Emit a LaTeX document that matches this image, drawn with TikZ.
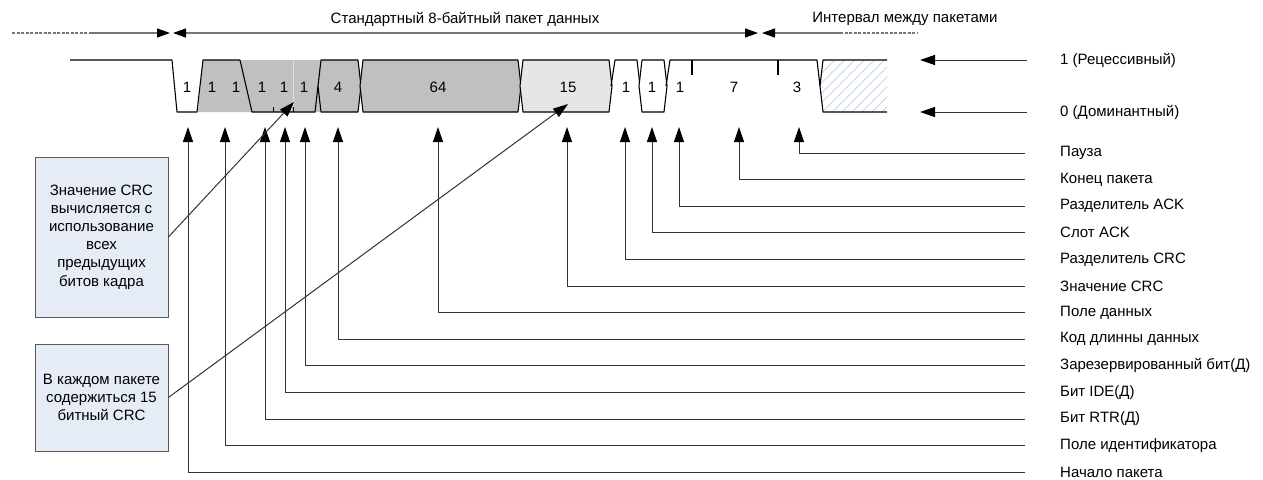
\documentclass[tikz,border=0pt]{standalone}
\usepackage{fontspec}
\setmainfont{Liberation Sans}
\usetikzlibrary{arrows.meta,positioning,calc,patterns.meta}
\definecolor{fieldgray}{RGB}{192,192,192}
\definecolor{crcgray}{RGB}{230,230,230}
\definecolor{notefill}{RGB}{230,236,246}
\definecolor{noteline}{RGB}{90,90,90}
\definecolor{hatchblue}{RGB}{190,205,230}
\definecolor{headgray}{RGB}{120,120,120}
\tikzset{
  wave/.style={draw, line width=1.1pt, line join=round},
  bitlabel/.style={font=\fontsize{15}{18}\selectfont, inner sep=0pt},
  fieldlabel/.style={font=\fontsize{15}{18}\selectfont, anchor=west, inner sep=0pt},
  note/.style={draw=noteline, fill=notefill, line width=0.8pt, minimum width=133pt,
    align=center, font=\fontsize{15}{18.2}\selectfont, inner sep=0pt},
  pointer/.style={-{Triangle[length=15pt,width=10pt,color=black]}, line width=1pt, black!80},
  headline/.style={draw=headgray, line width=1.2pt},
  headtip/.tip={Triangle[length=13pt,width=9pt,color=black]},
}
% bus field: left x, right x, fill
\newcommand{\busfield}[3]{%
  \filldraw[wave, fill=#3] (#1,86) -- (#1+3,60) -- (#2-3,60) -- (#2,86)
    -- (#2-3,112) -- (#1+3,112) -- cycle;}

\begin{document}
\begin{tikzpicture}[x=1pt, y=-1pt]
  \fill[white] (0,0) rectangle (1263,479);
  \useasboundingbox (0,0) rectangle (1263,479);

  % header
  \coordinate (hdstart) at (12,33);
  \coordinate (hdsolid) at (90,33);
  \coordinate (framestart) at (170,33);
  \coordinate (framebegin) at (173,33);
  \coordinate (frameend) at (758,33);
  \coordinate (gapbegin) at (762,33);
  \coordinate (gapsolid) at (840,33);
  \coordinate (hdend) at (918,33);
  \draw[headline, dash pattern=on 3pt off 1.5pt] (hdstart) -- (hdsolid);
  \draw[headline, -headtip] (hdsolid) -- (framestart);
  \draw[headline, headtip-headtip] (framebegin) -- (frameend);
  \draw[headline, headtip-] (gapbegin) -- (gapsolid);
  \draw[headline, dash pattern=on 3pt off 1.5pt] (gapsolid) -- (hdend);
  \node[bitlabel] (framelabel) at (465,19) {Стандартный 8-байтный пакет данных};
  \node[bitlabel] (gaplabel) at (905,19) {Интервал между пакетами};

  % waveform
  \fill[fieldgray] (198,112) -- (203,60) -- (320,60) -- (320,112) -- cycle;
  \draw[gray!25, line width=0.8pt] (293,60) -- (293,107);
  \draw[wave] (70,60) -- (172,60) -- (177,112) -- (197,112) -- (203,60) -- (240,60)
    -- (252,112) -- (315,112) -- (318,86);
  \draw[line width=0.9pt] (273,107) -- (273,112) (293,107) -- (293,112);
  \busfield{318}{361}{fieldgray}
  \busfield{360}{521}{fieldgray}
  \busfield{520}{612}{crcgray}
  \draw[wave] (611,86) -- (615,60) -- (637,60) -- (640,86);
  \busfield{639}{667}{white}
  \draw[wave] (666,86) -- (670,60) -- (817,60) -- (820,86);
  \draw[wave] (692,60) -- (692,75) (778,60) -- (778,75);
  \path[pattern={Lines[angle=45,distance=7pt,line width=0.7pt]}, pattern color=hatchblue]
    (820,86) -- (823,60) -- (887,60) -- (887,112) -- (823,112) -- cycle;
  \draw[wave] (887,60) -- (823,60) -- (820,86) -- (823,112) -- (887,112);

  % bit counts
  \foreach \px/\txt/\nm in {187/1/sof, 212/1/idA, 236/1/idB, 262/1/rtr, 284/1/ide,
      304/1/rzero, 338/4/dlc, 438/64/data, 568/15/crc, 626/1/crcdel, 652/1/ack,
      680/1/ackdel, 734/7/eof, 797/3/ifs}
    \node[bitlabel] (\nm) at (\px,87) {\txt};

  % levels
  \node[fieldlabel] (recessive) at (1060,60) {1 (Рецессивный)};
  \node[fieldlabel] (dominant) at (1060,112) {0 (Доминантный)};
  \coordinate (recessivetip) at (920,60);
  \coordinate (dominanttip) at (920,112);
  \draw[pointer] ([xshift=-33pt]recessive.west) -- (recessivetip);
  \draw[pointer] ([xshift=-33pt]dominant.west) -- (dominanttip);

  % field names
  \foreach \px/\txt [count=\i from 0] in {799/Пауза, 739/Конец пакета,
      679/Разделитель ACK, 652/Слот ACK, 625/Разделитель CRC, 567/Значение CRC,
      438/Поле данных, 338/Код длинны данных, 305/Зарезервированный бит(Д),
      285/Бит IDE(Д), 265/Бит RTR(Д), 225/Поле идентификатора, 188/Начало пакета} {
    \node[fieldlabel] (field\i) at (1060,{153+26.6*\i}) {\txt};
    \coordinate (fieldtip\i) at (\px,127);
    \draw[pointer] ([xshift=-35pt]field\i.west) -| (fieldtip\i);
  }

  % notes
  \node[note, minimum height=160pt] (crcnote) at (101.5,237)
    {Значение CRC\\вычисляется с\\использование\\всех\\предыдущих\\битов кадра};
  \node[note, minimum height=107pt] (crcsize) at (101.5,397.5)
    {В каждом пакете\\содержиться 15\\битный CRC};
  \coordinate (crcnotetip) at (294,102);
  \coordinate (crcsizetip) at (568,104);
  \draw[pointer] (crcnote.east) -- (crcnotetip);
  \draw[pointer] (crcsize.east) -- (crcsizetip);
\end{tikzpicture}
\end{document}
